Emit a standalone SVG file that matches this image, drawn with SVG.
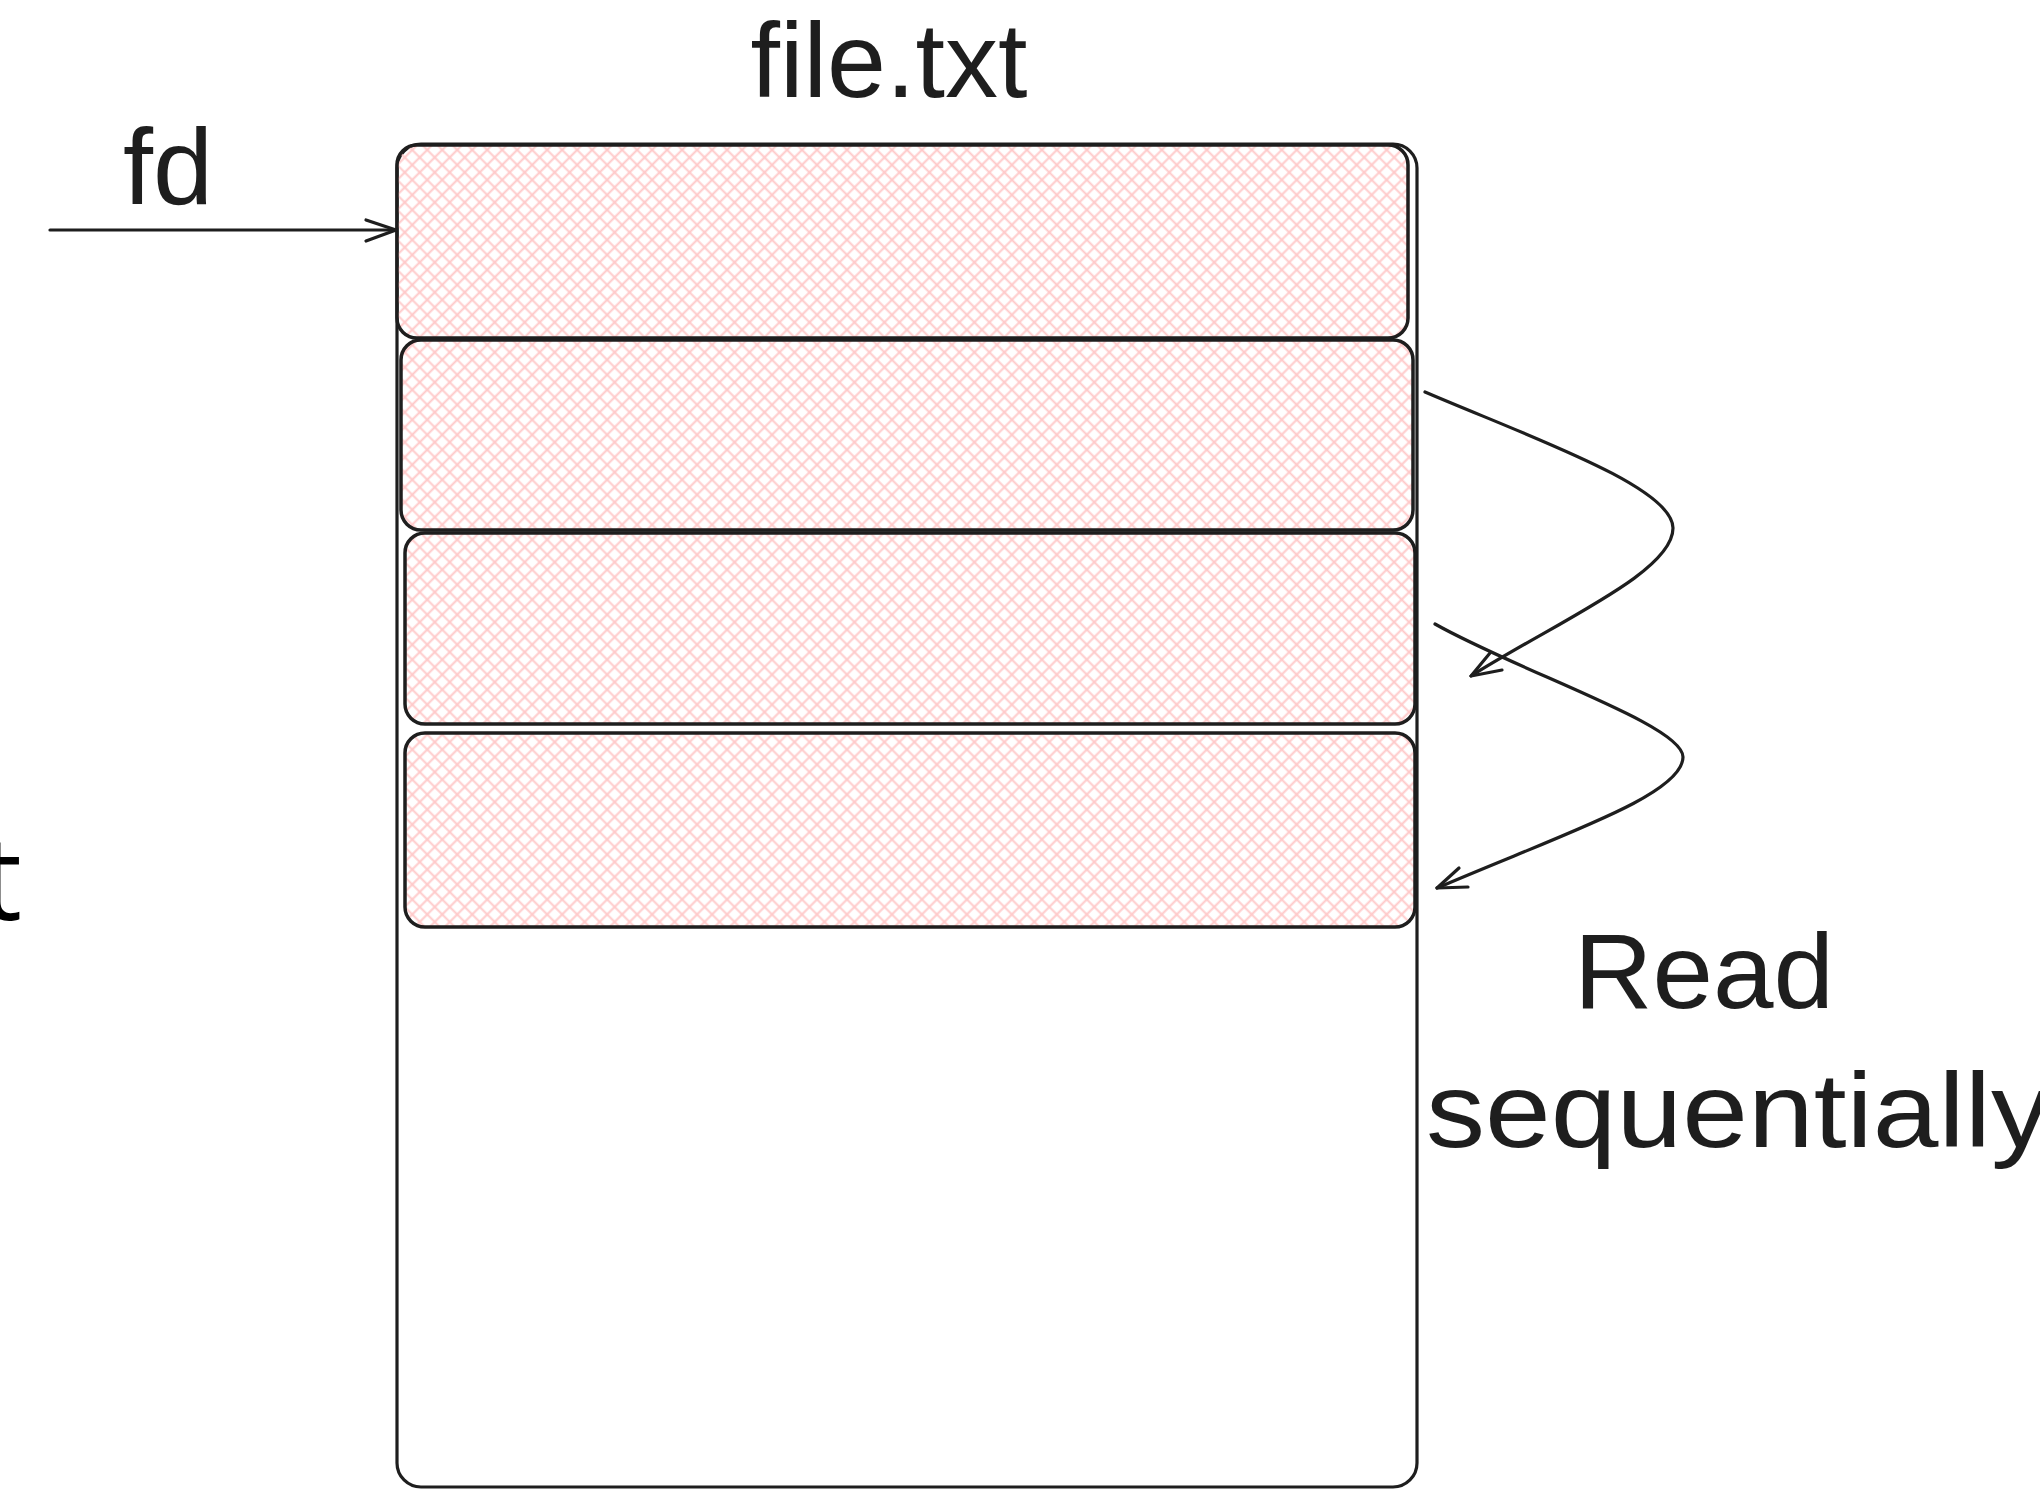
<svg xmlns="http://www.w3.org/2000/svg" width="2040" height="1490" viewBox="0 0 2040 1490">
  <defs>
    <pattern id="xh" width="10.6" height="10.6" patternUnits="userSpaceOnUse" patternTransform="rotate(45)">
      <path d="M0,5.3 H10.6 M5.3,0 V10.6" stroke="#ffc9c9" stroke-width="2" fill="none"/>
    </pattern>
  </defs>
  <style>
    .box { fill: url(#xh); stroke: #1e1e1e; stroke-width: 3.5; }
    .outer { fill: none; stroke: #1e1e1e; stroke-width: 3.2; }
    .conn { fill: none; stroke: #1e1e1e; stroke-width: 3.2; stroke-linecap: round; stroke-linejoin: round; }
    .lbl { font-family: "Liberation Sans", Arial, sans-serif; fill: #1e1e1e; }
    .hand { font-family: "Liberation Sans", Arial, sans-serif; fill: #1e1e1e; }
  </style>
  <rect x="0" y="0" width="2040" height="1490" fill="#ffffff"/>

  <g id="outer-file">
    <rect class="outer" x="397" y="144" width="1020" height="1343" rx="24" ry="24"/>
  </g>
  <g id="chunk-1">
    <rect class="box" x="397" y="145" width="1011" height="193" rx="20" ry="20"/>
  </g>
  <g id="chunk-2">
    <rect class="box" x="401" y="340" width="1012" height="190" rx="20" ry="20"/>
  </g>
  <g id="chunk-3">
    <rect class="box" x="405" y="533" width="1010" height="191" rx="20" ry="20"/>
  </g>
  <g id="chunk-4">
    <rect class="box" x="405" y="733" width="1010" height="194" rx="20" ry="20"/>
  </g>

  <g id="label-file">
    <text class="lbl" x="889" y="97" font-size="106" text-anchor="middle">file.txt</text>
  </g>
  <g id="label-fd">
    <text class="lbl" x="123" y="204" font-size="108">fd</text>
  </g>
  <g id="label-t">
    <text x="-20" y="920" font-size="118" font-family="'Open Sans', 'Noto Sans', sans-serif" fill="#000000">t</text>
  </g>
  <g id="label-read">
    <text class="hand" x="1574" y="1008" font-size="105" textLength="260" lengthAdjust="spacingAndGlyphs">Read</text>
    <text class="hand" x="1426" y="1147" font-size="105" textLength="624" lengthAdjust="spacingAndGlyphs">sequentially</text>
  </g>

  <g id="connectors">
    <path class="conn" d="M50,230 L396,230"/>
    <path class="conn" d="M366,220 L396,230 L366,241"/>
    <path class="conn" d="M1425,392 C1530,437 1673,487 1673,528 C1673,572 1560,620 1471,676"/>
    <path class="conn" d="M1490,653 L1471,676 L1502,670"/>
    <path class="conn" d="M1435,624 C1520,672 1683,725 1683,757 C1683,795 1560,835 1437,888"/>
    <path class="conn" d="M1459,868 L1437,888 L1468,887"/>
  </g>
</svg>
